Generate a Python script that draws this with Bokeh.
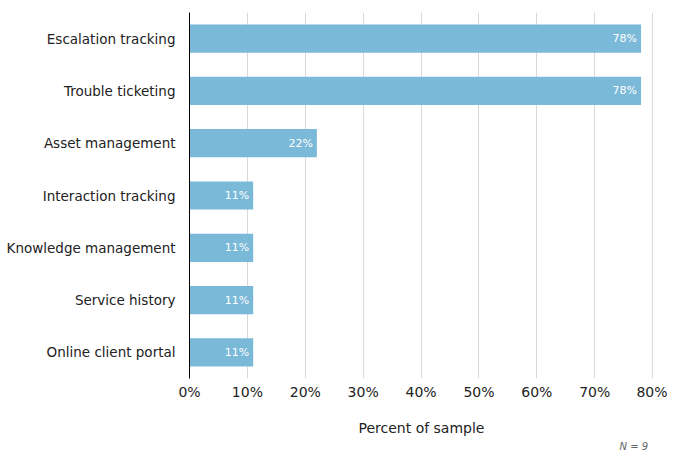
from bokeh.plotting import figure
from bokeh.models import FactorRange, Range1d, FixedTicker, PrintfTickFormatter, Title, ColumnDataSource
from bokeh.core.properties import value
from bokeh.embed import file_html
from bokeh.resources import INLINE

categories = ["Escalation tracking", "Trouble ticketing", "Asset management",
              "Interaction tracking", "Knowledge management", "Service history",
              "Online client portal"]
percents = [78, 78, 22, 11, 11, 11, 11]
bar_labels = ["78%", "78%", "22%", "11%", "11%", "11%", "11%"]
x_ticks = [0, 10, 20, 30, 40, 50, 60, 70, 80]
note = "N = 9"

FONT = "DejaVu Sans"

src = ColumnDataSource(dict(cat=categories, pct=percents, lab=bar_labels))

p = figure(width=667, height=462, output_backend="svg", toolbar_location=None,
           y_range=FactorRange(*reversed(categories), range_padding=0),
           x_range=Range1d(0, 80.15),
           min_border_left=189, min_border_right=14, min_border_top=12, min_border_bottom=84)
p.outline_line_color = None
p.background_fill_color = "white"
p.border_fill_color = "white"

p.hbar(y="cat", right="pct", left=0, height=0.54, source=src,
       fill_color="#7bb9d9", line_color=None)
p.text(x="pct", y="cat", text="lab", source=src, x_offset=-4,
       text_align="right", text_baseline="middle", text_color="white",
       text_font=value(FONT), text_font_size="11px")

p.xaxis.ticker = FixedTicker(ticks=x_ticks)
p.xaxis.formatter = PrintfTickFormatter(format="%d%%")
p.xaxis.axis_line_color = None
p.xaxis.major_tick_line_color = None
p.xaxis.minor_tick_line_color = None
p.xaxis.major_tick_out = 0
p.xaxis.minor_tick_out = 0
p.xaxis.major_label_text_font = FONT
p.xaxis.major_label_text_font_size = "14px"
p.xaxis.major_label_text_color = "#222222"
p.xaxis.major_label_standoff = 5
p.xaxis.axis_label = "Percent of sample"
p.xaxis.axis_label_text_font = FONT
p.xaxis.axis_label_text_font_size = "14px"
p.xaxis.axis_label_text_font_style = "normal"
p.xaxis.axis_label_text_color = "#222222"
p.xaxis.axis_label_standoff = 17

p.yaxis.axis_line_color = "black"
p.yaxis.axis_line_width = 1
p.yaxis.major_tick_line_color = None
p.yaxis.minor_tick_line_color = None
p.yaxis.major_tick_out = 0
p.yaxis.minor_tick_out = 0
p.yaxis.major_label_text_font = FONT
p.yaxis.major_label_text_font_size = "13.5px"
p.yaxis.major_label_text_color = "#222222"
p.yaxis.major_label_standoff = 14

p.xgrid.grid_line_color = "#d9d9d9"
p.ygrid.grid_line_color = None

p.add_layout(Title(text=note, align="left", offset=430, text_font=FONT,
                   text_font_size="10px", text_font_style="italic",
                   text_color="#666666", standoff=0), "below")

open("out.html", "w").write(file_html(p, INLINE))
